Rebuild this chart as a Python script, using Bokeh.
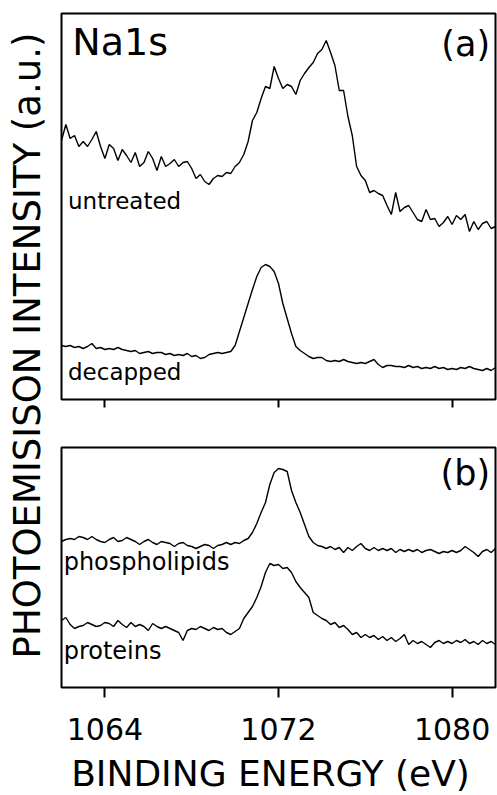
import math
from bokeh.plotting import figure
from bokeh.layouts import row, column
from bokeh.models import Range1d, FixedTicker, Label
from bokeh.embed import file_html
from bokeh.resources import INLINE

# ---------------- data ----------------
energy = [round(1062 + 0.2 * i, 1) for i in range(101)]  # binding energy grid (eV)

untreated = [259, 275, 261, 264, 253, 258, 253, 260, 268, 253,
             241, 255, 251, 239, 250, 244, 237, 247, 233, 237,
             248, 241, 229, 243, 233, 236, 240, 233, 237, 238,
             231, 221, 225, 218, 215, 221, 224, 223, 227, 226,
             233, 237, 245, 258, 279, 287, 301, 313, 311, 333,
             321, 311, 315, 313, 305, 319, 326, 332, 337, 346,
             350, 359, 347, 334, 309, 309, 283, 264, 233, 224,
             219, 207, 209, 206, 204, 194, 185, 207, 188, 192,
             194, 187, 180, 178, 190, 180, 181, 173, 177, 183,
             175, 184, 180, 185, 168, 178, 170, 176, 178, 171,
             173]

decapped = [54, 53, 54, 52, 53, 51, 53, 56, 51, 52,
            50, 51, 50, 52, 50, 49, 48, 49, 46, 47,
            48, 46, 47, 47, 45, 46, 44, 45, 44, 46,
            43, 44, 41, 42, 45, 46, 47, 46, 47, 48,
            54, 68, 82, 96, 110, 123, 132, 135, 133, 128,
            116, 96, 81, 66, 53, 49, 46, 43, 41, 42,
            42, 39, 38, 39, 38, 40, 38, 37, 36, 37,
            36, 38, 40, 35, 32, 34, 34, 33, 33, 32,
            34, 32, 33, 31, 32, 31, 33, 31, 32, 30,
            31, 30, 32, 31, 33, 31, 30, 29, 31, 29,
            32]

phospholipids = [146, 148, 149, 148, 151, 150, 148, 151, 148, 146,
                 145, 148, 150, 146, 147, 150, 148, 146, 143, 146,
                 148, 145, 143, 146, 145, 144, 141, 144, 145, 142,
                 141, 139, 141, 143, 142, 139, 142, 143, 145, 143,
                 145, 144, 147, 149, 155, 164, 175, 185, 203, 215,
                 219, 218, 216, 197, 185, 175, 163, 151, 145, 142,
                 141, 139, 141, 138, 140, 135, 140, 137, 141, 144,
                 139, 137, 140, 137, 139, 137, 139, 135, 138, 136,
                 138, 136, 138, 135, 137, 138, 136, 134, 136, 135,
                 137, 135, 137, 141, 138, 135, 131, 136, 138, 135,
                 139]

proteins = [67, 70, 63, 59, 61, 62, 65, 63, 61, 62,
            65, 64, 61, 67, 63, 60, 65, 61, 63, 61,
            57, 64, 61, 59, 61, 59, 57, 55, 47, 57,
            59, 58, 61, 59, 57, 60, 58, 59, 55, 53,
            56, 59, 69, 75, 81, 90, 101, 115, 124, 122,
            123, 119, 120, 115, 106, 100, 95, 90, 75, 72,
            69, 67, 63, 65, 60, 62, 58, 53, 55, 50,
            53, 50, 52, 48, 51, 47, 50, 46, 49, 53,
            43, 47, 44, 46, 43, 40, 45, 47, 44, 46,
            44, 47, 45, 48, 44, 46, 43, 47, 44, 46,
            43]

x_ticks = [1064, 1072, 1080]
x_label = "BINDING ENERGY (eV)"
y_label = "PHOTOEMISISON INTENSITY (a.u.)"

FONT = "DejaVu Sans"
X0, X1 = 1062, 1082


def base_fig(height, y_max, top, bottom):
    p = figure(width=439, height=height, output_backend="svg", toolbar_location=None,
               x_range=Range1d(X0, X1), y_range=Range1d(0, y_max),
               min_border_left=3, min_border_right=2,
               min_border_top=top, min_border_bottom=bottom)
    p.yaxis.visible = False
    p.grid.visible = False
    p.outline_line_color = "black"
    p.outline_line_width = 2
    p.background_fill_color = "white"
    p.border_fill_color = "white"
    ax = p.xaxis[0]
    ax.ticker = FixedTicker(ticks=x_ticks)
    ax.axis_line_color = None
    ax.major_tick_in = 0
    ax.minor_tick_line_color = None
    ax.major_tick_line_color = "black"
    ax.major_tick_line_width = 2
    return p


def blank_fig(width, height):
    p = figure(width=width, height=height, output_backend="svg", toolbar_location=None,
               x_range=Range1d(0, width), y_range=Range1d(0, height),
               min_border=0, min_border_left=0, min_border_right=0,
               min_border_top=0, min_border_bottom=0)
    p.axis.visible = False
    p.grid.visible = False
    p.outline_line_color = None
    return p


def add_text(p, x, y, text, size, align="left", angle=0.0):
    p.add_layout(Label(x=x, y=y, text=text, text_font=FONT, text_font_size=size,
                       text_color="black", text_align=align, text_baseline="middle",
                       angle=angle))


# ---------------- panel (a) ----------------
pa = base_fig(420, 386, 13, 21)
pa.xaxis[0].major_tick_out = 8
pa.xaxis[0].major_label_overrides = {t: "" for t in x_ticks}
pa.xaxis[0].major_label_standoff = 0
pa.line(energy, untreated, line_color="black", line_width=1.4)
pa.line(energy, decapped, line_color="black", line_width=1.4)
add_text(pa, 1062.5, 358, "Na1s", "38px")
add_text(pa, 1081.75, 356, "(a)", "35px", align="right")
add_text(pa, 1062.3, 199, "untreated", "23px")
add_text(pa, 1062.3, 28, "decapped", "23px")

# ---------------- panel (b) ----------------
pb = base_fig(332, 240, 27, 65)
axb = pb.xaxis[0]
axb.major_tick_out = 10
axb.major_label_standoff = 20
axb.major_label_text_font = FONT
axb.major_label_text_font_size = "30px"
axb.major_label_text_color = "black"
pb.line(energy, phospholipids, line_color="black", line_width=1.4)
pb.line(energy, proteins, line_color="black", line_width=1.4)
add_text(pb, 1062.1, 126, "phospholipids", "24px")
add_text(pb, 1062.1, 37, "proteins", "24px")
add_text(pb, 1081.75, 215, "(b)", "35px", align="right")

# ---------------- shared y label ----------------
pl = blank_fig(58, 752)
add_text(pl, 27, 407, y_label, "37px", align="center", angle=math.pi / 2)

# ---------------- x label strip ----------------
xl = blank_fig(497, 43)
add_text(xl, 270, 22, x_label, "36px", align="center")

layout = column(row(pl, column(pa, pb)), xl)
open("out.html", "w").write(file_html(layout, INLINE))
